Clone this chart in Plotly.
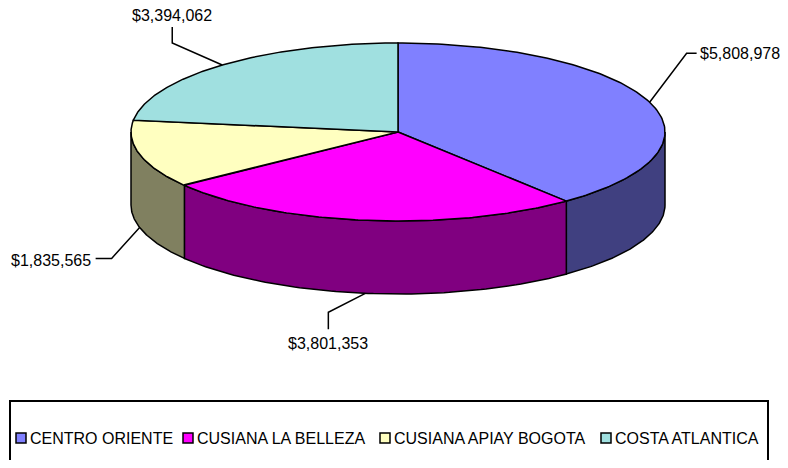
import numpy as np
import plotly.graph_objects as go

# Data
regions = ["CENTRO ORIENTE", "CUSIANA LA BELLEZA", "CUSIANA APIAY BOGOTA", "COSTA ATLANTICA"]
values = [5808978, 3801353, 1835565, 3394062]
value_labels = ["$" + f"{v:,}" for v in values]

# Styling (Excel-like 3D pie)
top_colors = ["#8080FF", "#FF00FF", "#FFFFC0", "#A0E0E0"]
side_colors = ["#404080", "#800080", "#808060", "#508080"]
FONT = "Arial, Liberation Sans, sans-serif"

# pie geometry in window pixel space
cx, cy, rx, ry, depth = 398, 132, 267, 89, 73
# the page body has an 8px margin: keep the figure inside the window
# (no scrollbars) and shift the axes so coordinates are window pixels
OFF = 8
W, H = 788 - OFF, 468 - 2 * OFF


def pt(theta, drop=0.0):
    t = np.radians(theta)
    return cx + rx * np.sin(t), cy - ry * np.cos(t) + drop


# slice angles, clockwise from 12 o'clock
fracs = np.array(values) / sum(values)
ends = np.cumsum(fracs) * 360
starts = ends - fracs * 360

fig = go.Figure()

# side walls (only the front half is visible)
for i in range(len(values)):
    a0, a1 = max(starts[i], 90), min(ends[i], 270)
    if a1 <= a0:
        continue
    th = np.linspace(a0, a1, 80)
    tx, ty = pt(th)
    bx, by = pt(th[::-1], depth)
    xs = np.concatenate([tx, bx, tx[:1]])
    ys = np.concatenate([ty, by, ty[:1]])
    fig.add_trace(go.Scatter(x=xs, y=ys, mode="lines", fill="toself",
                             fillcolor=side_colors[i],
                             line=dict(color="black", width=1.5),
                             hoverinfo="skip", showlegend=False))

# top faces
for i in range(len(values)):
    th = np.linspace(starts[i], ends[i], 150)
    ax, ay = pt(th)
    xs = np.concatenate([[cx], ax, [cx]])
    ys = np.concatenate([[cy], ay, [cy]])
    fig.add_trace(go.Scatter(x=xs, y=ys, mode="lines", fill="toself",
                             fillcolor=top_colors[i],
                             line=dict(color="black", width=1.5),
                             name=regions[i], hoverinfo="skip", showlegend=False))

# leader lines: elbow offset, tail offset, text offset, text anchor
leaders = [
    ((37, -49), (10, 0), (1, 0), "left"),
    ((-37, 19), (0, 17), (0, 14), "center"),
    ((-28, 31), (-16, 0), (-3, 2), "right"),
    ((-50, -22), (0, -16), (0, -12), "center"),
]
annotations = []
for i in range(len(values)):
    mid = (starts[i] + ends[i]) / 2
    drop = depth if 90 < mid < 270 else 0
    sx, sy = pt(mid, drop)
    (ex, ey), (tx, ty), (ox, oy), anchor = leaders[i]
    px = [sx, sx + ex, sx + ex + tx]
    py = [sy, sy + ey, sy + ey + ty]
    fig.add_trace(go.Scatter(x=px, y=py, mode="lines",
                             line=dict(color="black", width=1.5),
                             hoverinfo="skip", showlegend=False))
    annotations.append(dict(x=px[-1] + ox, y=py[-1] + oy, text=value_labels[i],
                            showarrow=False, xanchor=anchor, yanchor="middle",
                            font=dict(family=FONT, size=16, color="black")))

# legend drawn by hand to match the Excel layout
legend_x = [16, 183, 380, 601]
legend_y = 438
shapes = [dict(type="rect", x0=10, x1=768, y0=401, y1=490,
               line=dict(color="black", width=2), fillcolor="rgba(0,0,0,0)")]
for i, name in enumerate(regions):
    x0 = legend_x[i]
    shapes.append(dict(type="rect", x0=x0, x1=x0 + 10, y0=legend_y - 5, y1=legend_y + 5,
                       line=dict(color="black", width=1.5), fillcolor=top_colors[i]))
    annotations.append(dict(x=x0 + 12, y=legend_y, text=name, showarrow=False,
                            xanchor="left", yanchor="middle",
                            font=dict(family=FONT, size=16, color="black")))

fig.update_layout(
    width=W, height=H,
    margin=dict(l=0, r=0, t=0, b=0),
    paper_bgcolor="white", plot_bgcolor="white",
    xaxis=dict(range=[OFF, OFF + W], visible=False, fixedrange=True),
    yaxis=dict(range=[OFF + H, OFF], visible=False, fixedrange=True),
    shapes=shapes,
    annotations=annotations,
    showlegend=False,
)

fig.write_html("out.html")
